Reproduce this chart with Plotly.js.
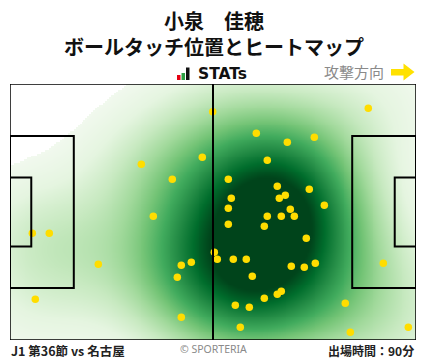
<!DOCTYPE html>
<html>
<head>
<meta charset="utf-8">
<script src="https://cdn.plot.ly/plotly-3.0.1.min.js"></script>
<style>
html,body{margin:0;padding:0;background:#fff;}
#chart{width:428px;height:359px;}
</style>
</head>
<body>
<div id="chart"></div>
<script>
// Ball touch positions (metres, pitch 105 x 68, attacking to the right)
const touchX = [52.42,33.96,49.73,41.97,37.06,92.66,63.70,71.72,78.70,66.54,
  56.46,69.13,77.40,57.23,69.65,71.20,56.46,72.49,81.29,66.54,
  70.16,73.53,5.77,10.16,22.84,6.54,44.30,46.89,43.27,44.30,
  56.46,65.77,76.63,52.84,53.61,57.75,61.11,62.66,72.75,76.11,
  78.96,96.54,70.16,69.13,65.77,58.27,61.89,86.71,59.56,88.01,103.01];
const touchY = [60.64,46.67,48.53,42.69,32.86,61.55,54.90,52.51,53.84,47.73,
  42.69,40.83,40.03,37.64,37.64,38.44,34.98,34.72,35.78,32.86,
  32.86,32.86,28.34,28.34,20.11,10.81,19.84,20.64,16.65,6.03,
  30.73,30.20,27.01,23.30,21.44,21.44,21.44,16.92,19.58,19.31,
  20.37,20.37,12.94,12.14,11.08,9.22,8.69,9.75,3.37,2.05,3.37];

const titleLines = ["小泉　佳穂", "ボールタッチ位置とヒートマップ"];
const brandText = "STATs";
const directionText = "攻撃方向";
const footerLeft = "J1 第36節 vs 名古屋";
const footerCenter = "© SPORTERIA";
const footerRight = "出場時間：90分";

const PITCH_L = 105, PITCH_W = 68;

// Gaussian KDE of the touch positions on a grid
const bwX = 13, bwY = 11.5;
const gx = [], gy = [];
for (let i = 0; i <= 210; i++) gx.push(i * 0.5);
for (let j = 0; j <= 136; j++) gy.push(j * 0.5);
let zmax = 0;
const z = gy.map(y => gx.map(x => {
  let s = 0;
  for (let k = 0; k < touchX.length; k++) {
    const dx = (x - touchX[k]) / bwX, dy = (y - touchY[k]) / bwY;
    s += Math.exp(-0.5 * (dx * dx + dy * dy));
  }
  if (s > zmax) zmax = s;
  return s;
}));
const th = 0.03, gamma = 0.8, sat = 0.82;
const zn = z.map(r => r.map(v => {
  const t = v / zmax;
  if (t < th) return 0;
  const u = Math.min(1, Math.pow((t - th) / (1 - th), gamma) / sat);
  return th + (1 - th) * u;
}));

const greens = ['#f7fcf5','#e5f5e0','#c7e9c0','#a1d99b','#74c476','#41ab5d','#238b45','#006d2c','#00441b'];
const cs = [[0,'#ffffff'],[th - 0.0001,'#ffffff'],[th,'#f2f9ef']];
greens.forEach((c, i) => { if (i > 0) cs.push([th + (1 - th) * i / (greens.length - 1), c]); });

const heat = {
  type: 'heatmap', x: gx, y: gy, z: zn, zmin: 0, zmax: 1,
  colorscale: cs, showscale: false, zsmooth: 'best', hoverinfo: 'skip'
};
const pts = {
  type: 'scatter', mode: 'markers', x: touchX, y: touchY,
  marker: {color: '#ffdd00', size: 7.5, line: {width: 0}}, hoverinfo: 'skip'
};

// Pixel helpers for header decorations (plot area 10..416 x 84..340)
const W = 428, H = 359, L = 10, R = 12, T = 84, B = 19;
const pw = W - L - R, ph = H - T - B;
const px = v => (v - L) / pw;
const py = v => (H - B - v) / ph;

const line = {color: '#000', width: 2};
const shapes = [
  {type:'rect', xref:'x', yref:'y', x0:0, x1:PITCH_L, y0:0, y1:PITCH_W, line:{color:'#000', width:1.5}},
  {type:'line', xref:'x', yref:'y', x0:52.5, x1:52.5, y0:0, y1:PITCH_W, line},
  {type:'rect', xref:'x', yref:'y', x0:0, x1:16.5, y0:13.84, y1:54.16, line},
  {type:'rect', xref:'x', yref:'y', x0:0, x1:5.5, y0:24.84, y1:43.16, line},
  {type:'rect', xref:'x', yref:'y', x0:88.5, x1:105, y0:13.84, y1:54.16, line},
  {type:'rect', xref:'x', yref:'y', x0:99.5, x1:105, y0:24.84, y1:43.16, line},
  // brand icon bars
  {type:'rect', xref:'paper', yref:'paper', x0:px(177), x1:px(180.5), y0:py(80), y1:py(75), fillcolor:'#e60012', line:{width:0}},
  {type:'rect', xref:'paper', yref:'paper', x0:px(181.5), x1:px(185), y0:py(80), y1:py(73), fillcolor:'#2ea043', line:{width:0}},
  {type:'rect', xref:'paper', yref:'paper', x0:px(186), x1:px(189.5), y0:py(80), y1:py(67.5), fillcolor:'#111', line:{width:0}},
  // direction arrow
  {type:'path', xref:'paper', yref:'paper', fillcolor:'#ffe100', line:{width:0},
   path:`M ${px(391)},${py(69)} L ${px(403.5)},${py(69)} L ${px(403.5)},${py(63.5)} L ${px(414.5)},${py(72)} L ${px(403.5)},${py(80.5)} L ${px(403.5)},${py(75.5)} L ${px(391)},${py(75.5)} Z`}
];

const jp = 'Noto Sans CJK JP, Noto Sans, sans-serif';
const annotations = [
  {text: titleLines.join('<br>'), xref:'paper', yref:'paper', x:px(214), y:py(33.5), xanchor:'center', yanchor:'middle', showarrow:false,
   align:'center', font:{family:jp, size:20, color:'#111', weight:700}},
  {text: brandText, xref:'paper', yref:'paper', x:px(196), y:py(74), xanchor:'left', yanchor:'middle', showarrow:false,
   font:{family:'DejaVu Sans, sans-serif', size:15.5, color:'#111', weight:700}},
  {text: directionText, xref:'paper', yref:'paper', x:px(386), y:py(71), xanchor:'right', yanchor:'middle', showarrow:false,
   font:{family:jp, size:15, color:'#8a8a8a'}},
  {text: footerLeft, xref:'paper', yref:'paper', x:px(9), y:py(350), xanchor:'left', yanchor:'middle', showarrow:false,
   font:{family:jp, size:12.5, color:'#222', weight:700}},
  {text: footerCenter, xref:'paper', yref:'paper', x:px(213), y:py(349), xanchor:'center', yanchor:'middle', showarrow:false,
   font:{family:'Noto Sans, sans-serif', size:10.5, color:'#8a8a8a'}},
  {text: footerRight, xref:'paper', yref:'paper', x:px(416), y:py(350), xanchor:'right', yanchor:'middle', showarrow:false,
   font:{family:jp, size:12, color:'#222', weight:700}}
];

const layout = {
  width: W, height: H,
  margin: {l:L, r:R, t:T, b:B, pad:0},
  paper_bgcolor:'#fff', plot_bgcolor:'#fff',
  xaxis: {range:[0, PITCH_L], showgrid:false, zeroline:false, showticklabels:false, ticks:'', fixedrange:true},
  yaxis: {range:[0, PITCH_W], showgrid:false, zeroline:false, showticklabels:false, ticks:'', fixedrange:true},
  showlegend:false,
  shapes, annotations
};
Plotly.newPlot('chart', [heat, pts], layout, {staticPlot:true, displayModeBar:false});
</script>
</body>
</html>
